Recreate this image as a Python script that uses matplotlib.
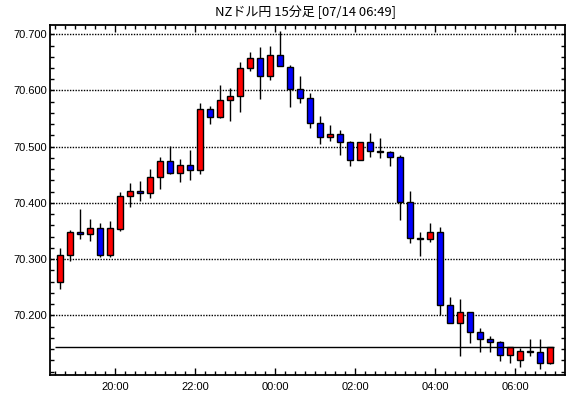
import matplotlib
matplotlib.use("Agg")
import matplotlib.pyplot as plt
from matplotlib.ticker import MultipleLocator, FixedLocator

title = "NZドル円 15分足 [07/14 06:49]"
start_time = "18:30"
tick_labels = ["20:00", "22:00", "00:00", "02:00", "04:00", "06:00"]
tick_candle_index = [6, 14, 22, 30, 38, 46]

opens = [70.260, 70.307, 70.348, 70.344, 70.356, 70.307, 70.354, 70.412, 70.421, 70.418,
         70.446, 70.474, 70.454, 70.467, 70.458, 70.567, 70.552, 70.583, 70.591, 70.640,
         70.657, 70.625, 70.663, 70.641, 70.602, 70.586, 70.543, 70.517, 70.522, 70.508,
         70.476, 70.509, 70.493, 70.491, 70.482, 70.402, 70.338, 70.336, 70.348, 70.218,
         70.186, 70.205, 70.171, 70.157, 70.152, 70.129, 70.120, 70.137, 70.134, 70.116]
highs = [70.320, 70.352, 70.390, 70.372, 70.364, 70.368, 70.419, 70.435, 70.439, 70.460,
         70.482, 70.501, 70.478, 70.494, 70.578, 70.572, 70.610, 70.604, 70.651, 70.669,
         70.677, 70.679, 70.706, 70.645, 70.626, 70.595, 70.554, 70.538, 70.529, 70.510,
         70.508, 70.524, 70.515, 70.493, 70.486, 70.422, 70.348, 70.364, 70.357, 70.232,
         70.229, 70.205, 70.177, 70.163, 70.154, 70.143, 70.141, 70.157, 70.157, 70.143]
lows = [70.247, 70.297, 70.336, 70.333, 70.303, 70.303, 70.350, 70.393, 70.404, 70.409,
        70.424, 70.452, 70.438, 70.441, 70.452, 70.541, 70.551, 70.546, 70.561, 70.634,
        70.584, 70.618, 70.643, 70.571, 70.578, 70.534, 70.505, 70.510, 70.486, 70.466,
        70.476, 70.482, 70.480, 70.466, 70.370, 70.328, 70.305, 70.330, 70.200, 70.186,
        70.128, 70.150, 70.135, 70.134, 70.119, 70.116, 70.108, 70.128, 70.105, 70.113]
closes = [70.307, 70.348, 70.344, 70.356, 70.307, 70.356, 70.412, 70.421, 70.418, 70.446,
          70.474, 70.454, 70.467, 70.458, 70.567, 70.552, 70.583, 70.591, 70.640, 70.657,
          70.625, 70.663, 70.643, 70.602, 70.586, 70.543, 70.517, 70.522, 70.508, 70.476,
          70.508, 70.493, 70.491, 70.482, 70.402, 70.338, 70.336, 70.348, 70.218, 70.186,
          70.205, 70.170, 70.157, 70.152, 70.129, 70.143, 70.136, 70.134, 70.116, 70.143]

W, H = 570, 398
fig = plt.figure(figsize=(W / 100, H / 100), dpi=100)
L, R, T, B = 49.5, 565, 24.5, 375
ax = fig.add_axes([L / W, 1 - B / H, (R - L) / W, (B - T) / H])

n = len(opens)
xs = list(range(n))
# wicks
ax.vlines(xs, lows, highs, colors="black", linewidth=1.0, zorder=2)
# bodies
bottoms = [min(o, c) for o, c in zip(opens, closes)]
heights = [max(abs(c - o), 0.0008) for o, c in zip(opens, closes)]
colors = ["#ff0000" if c >= o else "#0000ff" for o, c in zip(opens, closes)]
ax.bar(xs, heights, bottom=bottoms, width=0.6, color=colors, edgecolor="black",
       linewidth=1.0, zorder=3)

# current price line
ax.hlines(closes[-1], -0.5, n - 0.6, colors="black", linewidth=1.0, zorder=4)

ax.set_xlim(-1.05, n + 0.5)
ax.set_ylim(70.0938, 70.7174)

# grid
for v in [70.2, 70.3, 70.4, 70.5, 70.6, 70.7]:
    ax.axhline(v, color="black", linewidth=1.0, linestyle=(0, (1, 1)), zorder=1)

ax.yaxis.set_major_locator(FixedLocator([70.2, 70.3, 70.4, 70.5, 70.6, 70.7]))
ax.yaxis.set_minor_locator(MultipleLocator(0.02))
ax.set_yticklabels(["70.200", "70.300", "70.400", "70.500", "70.600", "70.700"])

ax.xaxis.set_major_locator(FixedLocator([i - 0.5 for i in tick_candle_index]))
ax.set_xticklabels(tick_labels)
ax.xaxis.set_minor_locator(FixedLocator([i - 0.5 for i in range(n + 1)]))

font = "Liberation Sans"
ax.tick_params(axis="y", which="both", direction="in", left=True, right=True,
               labelsize=8, pad=2, colors="black")
ax.tick_params(axis="y", which="major", length=3, width=1)
ax.tick_params(axis="y", which="minor", length=3, width=1)
ax.tick_params(axis="x", which="both", direction="in", top=True, bottom=True,
               labelsize=8, pad=5)
ax.tick_params(axis="x", which="major", length=5, width=1)
ax.tick_params(axis="x", which="minor", length=3, width=1)
for lab in ax.get_xticklabels() + ax.get_yticklabels():
    lab.set_fontfamily(font)

for s in ax.spines.values():
    s.set_linewidth(1.3)
    s.set_color("black")

fig.text(215 / W, 1 - 12.5 / H, title, ha="left", va="center", fontsize=9.4,
         family=["Noto Sans CJK JP", "DejaVu Sans"])

fig.savefig("out.png", dpi=100)
